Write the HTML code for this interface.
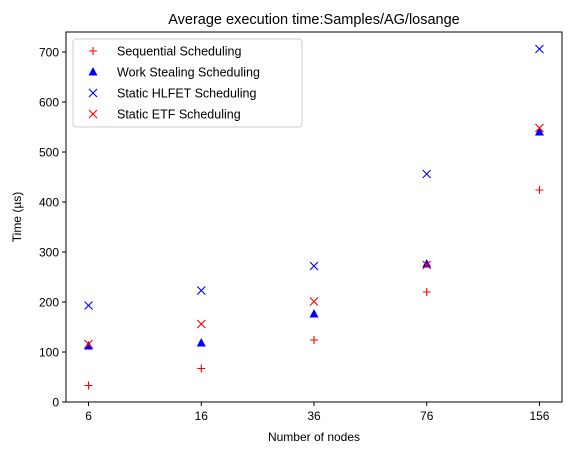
<!DOCTYPE html>
<html><head><meta charset="utf-8"><style>
body{margin:0;background:#fff}
svg{font-family:"Liberation Sans","DejaVu Sans",sans-serif}
</style></head><body>
<svg id="chart" width="575" height="455" xmlns="http://www.w3.org/2000/svg">
<rect width="575" height="455" fill="#fff"/>
<text x="314" y="24" font-size="14.5" text-anchor="middle" fill="#000">Average execution time:Samples/AG/losange</text>
<g id="marks"></g>
<rect x="66" y="32" width="496" height="370" fill="none" stroke="#000" stroke-width="1"/>
<g id="axes"></g>
<text x="314" y="441" font-size="12" text-anchor="middle">Number of nodes</text>
<text transform="translate(21,217) rotate(-90)" font-size="12" text-anchor="middle">Time (µs)</text>
<g>
<rect x="73" y="39" width="229" height="88" rx="3" fill="#fff" fill-opacity="0.8" stroke="#ccc"/>
<g id="legend-items"></g>
</g>
</svg>
<script>
const categories=["6","16","36","76","156"];
const sequential=[33,67,124,220,424];
const workStealing=[112,118,176,276,540];
const hlfet=[193,223,272,456,706];
const etf=[116,156,201,274,548];
const yTicks=[0,100,200,300,400,500,600,700];
const NS="http://www.w3.org/2000/svg";
const X0=66,X1=562,Y0=402,Y1=32;
function xs(i){return X0+(i+0.2)*(X1-X0)/4.4;}
function ys(v){return Y0-v*0.5;}
function mk(t,a,p){const e=document.createElementNS(NS,t);for(const k in a)e.setAttribute(k,a[k]);p.appendChild(e);return e;}
function marker(type,x,y,c,p){
  if(type==="plus"){mk("path",{d:`M${x-4},${y}H${x+4}M${x},${y-4}V${y+4}`,stroke:c,"stroke-width":1.1,fill:"none"},p);}
  else if(type==="tri"){mk("path",{d:`M${x},${y-5}L${x+4.5},${y+3.5}L${x-4.5},${y+3.5}Z`,fill:c},p);}
  else{mk("path",{d:`M${x-4},${y-4}L${x+4},${y+4}M${x-4},${y+4}L${x+4},${y-4}`,stroke:c,"stroke-width":1.1,fill:"none"},p);}
}
const series=[["sequential",sequential,"plus","#f00","Sequential Scheduling"],["work-stealing",workStealing,"tri","#00f","Work Stealing Scheduling"],["hlfet",hlfet,"x","#00f","Static HLFET Scheduling"],["etf",etf,"x","#f00","Static ETF Scheduling"]];
const marks=document.getElementById("marks");
series.forEach(s=>{
  const g=mk("g",{},marks);
  
  
  s[1].forEach((v,i)=>{
    const pg=mk("g",{},g);
    
    
    marker(s[2],xs(i),ys(v),s[3],pg);
  });
});
const axes=document.getElementById("axes");
categories.forEach((c,i)=>{
  const x=xs(i);
  mk("line",{x1:x,x2:x,y1:Y0,y2:Y0+4,stroke:"#000"},axes);
  const t=mk("text",{x:x,y:Y0+18,"font-size":12,"text-anchor":"middle"},axes);
  t.textContent=c;
  
  
});
yTicks.forEach(v=>{
  const y=ys(v);
  mk("line",{x1:X0-4,x2:X0,y1:y,y2:y,stroke:"#000"},axes);
  const t=mk("text",{x:X0-7,y:y+4.5,"font-size":12,"text-anchor":"end"},axes);
  t.textContent=v;
  
  
});
const li=document.getElementById("legend-items");
series.forEach((s,i)=>{
  const y=51+i*21;
  const g=mk("g",{},li);
  
  
  marker(s[2],93,y,s[3],g);
  const t=mk("text",{x:117,y:y+4.5,"font-size":12.5},g);
  t.textContent=s[4];
});
</script>
</body></html>
